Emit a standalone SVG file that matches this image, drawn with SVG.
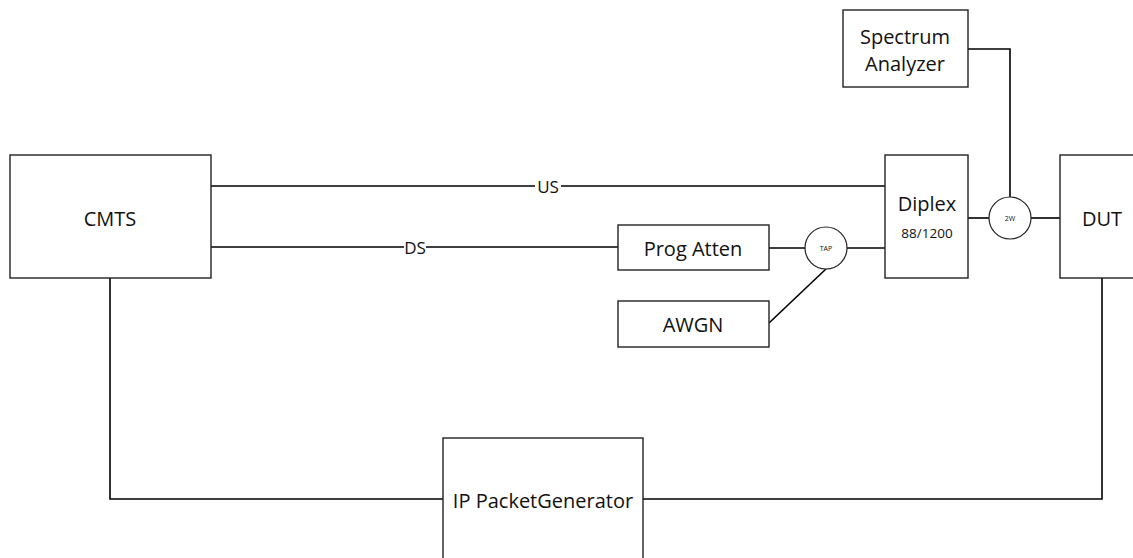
<svg xmlns="http://www.w3.org/2000/svg" width="1133" height="558" viewBox="0 0 1133 558">
<style>
.box{fill:#fff;stroke:#222;stroke-width:1.4}
.c{fill:#fff;stroke:#222;stroke-width:1.2}
.ln{fill:none;stroke:#000;stroke-width:1.6}
text{font-family:"Open Sans","Liberation Sans",sans-serif;fill:#111;text-anchor:middle;dominant-baseline:central}
.t{font-size:20px}
.s{font-size:13.5px}
.m{font-size:17px}
.x{font-size:7px}
</style>
<rect width="1133" height="558" fill="#fff"/>
<g id="connectors">
<path class="ln" d="M211,186 H885"/>
<path class="ln" d="M211,247 H618"/>
<path class="ln" d="M769,248 H805"/>
<path class="ln" d="M847,248 H885"/>
<path class="ln" d="M769,323 L827,268"/>
<path class="ln" d="M968,218 H989"/>
<path class="ln" d="M1031,218 H1060"/>
<path class="ln" d="M968,49 H1010 V197"/>
<path class="ln" d="M110,278 V499 H443"/>
<path class="ln" d="M643,499 H1102 V278"/>
<rect x="535" y="177" width="26" height="18" fill="#fff"/>
<text class="m" x="548" y="186">US</text>
<rect x="404" y="238" width="22" height="18" fill="#fff"/>
<text class="m" x="415" y="247">DS</text>
</g>
<g id="cmts"><rect class="box" x="10" y="155" width="201" height="123"/><text class="t" x="110" y="218">CMTS</text></g>
<g id="spectrum"><rect class="box" x="843" y="10" width="125" height="77"/><text class="t" x="905" y="36">Spectrum</text><text class="t" x="905" y="63">Analyzer</text></g>
<g id="diplex"><rect class="box" x="885" y="155" width="83" height="123"/><text class="t" x="927" y="203">Diplex</text><text class="s" x="927" y="233">88/1200</text></g>
<g id="twoway"><circle class="c" cx="1010" cy="218" r="21"/><text class="x" x="1010" y="218">2W</text></g>
<g id="dut"><rect class="box" x="1060" y="155" width="80" height="123"/><text class="t" x="1102" y="218">DUT</text></g>
<g id="progatten"><rect class="box" x="618" y="225" width="151" height="45"/><text class="t" x="693" y="248">Prog Atten</text></g>
<g id="tap"><circle class="c" cx="826" cy="248" r="21"/><text class="x" x="826" y="248">TAP</text></g>
<g id="awgn"><rect class="box" x="618" y="301" width="151" height="46"/><text class="t" x="693" y="324">AWGN</text></g>
<g id="ipgen"><rect class="box" x="443" y="438" width="200" height="130"/><text class="t" x="543" y="500">IP PacketGenerator</text></g>
</svg>
